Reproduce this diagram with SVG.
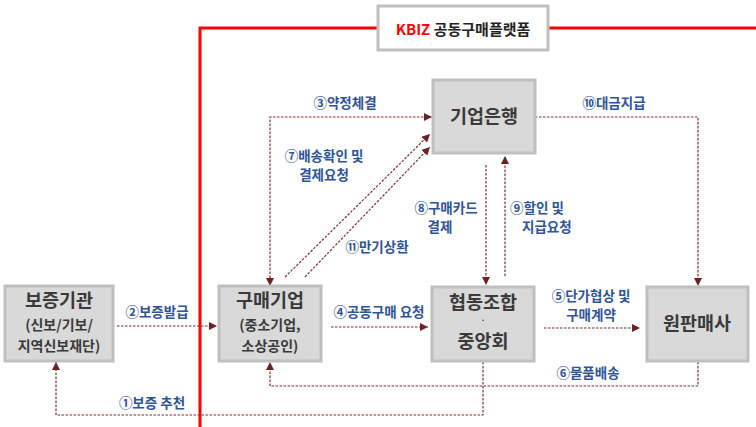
<svg xmlns="http://www.w3.org/2000/svg" width="756" height="427" viewBox="0 0 756 427">
<style>
.node rect{fill:#d9d9d9;stroke:#bfbfbf;stroke-width:3}
.nt{font-family:"Noto Sans CJK KR","Noto Sans",sans-serif;fill:#3a3a3a;text-anchor:middle;font-weight:bold}
.t1{font-size:18.5px}
.t2{font-size:14px}
.lb{font-family:"Noto Sans CJK KR","Noto Sans",sans-serif;fill:#2f5496;font-size:13.5px;font-weight:bold}
.c{fill:none;stroke:#7b2f2f;stroke-width:1.2;stroke-dasharray:2.5 1.5}
</style>
<defs>
<marker id="ah" viewBox="0 0 10 10" refX="10" refY="5" markerWidth="8" markerHeight="8" markerUnits="userSpaceOnUse" orient="auto-start-reverse">
<path d="M0,0 L10,5 L0,10 z" fill="#6b2222"/>
</marker>
</defs>
<rect width="756" height="427" fill="#ffffff"/>
<g id="platform">
<polyline points="200,427 200,28 756,28" fill="none" stroke="#ff0000" stroke-width="3"/>
<rect x="378" y="6" width="170" height="44" fill="#ffffff" stroke="#bfbfbf" stroke-width="3"/>
<text x="463" y="35" text-anchor="middle" font-family="'Noto Sans CJK KR','Noto Sans',sans-serif" font-size="15" font-weight="bold"><tspan fill="#ff0000">KBIZ</tspan><tspan fill="#222222"> 공동구매플랫폼</tspan></text>
</g>
<g id="connectors">
<polyline class="c" points="270,286 270,117 432,117" marker-start="url(#ah)" marker-end="url(#ah)"/>
<line class="c" x1="285" y1="277" x2="430" y2="134" marker-end="url(#ah)"/>
<line class="c" x1="305" y1="277" x2="430" y2="147" marker-end="url(#ah)"/>
<line class="c" x1="486" y1="165" x2="486" y2="285" marker-end="url(#ah)"/>
<line class="c" x1="505" y1="276" x2="505" y2="156" marker-end="url(#ah)"/>
<polyline class="c" points="535,117 698,117 698,286" marker-end="url(#ah)"/>
<line class="c" x1="117" y1="326" x2="217" y2="326" marker-end="url(#ah)"/>
<line class="c" x1="331" y1="327" x2="428" y2="327" marker-end="url(#ah)"/>
<line class="c" x1="544" y1="328" x2="640" y2="328" marker-end="url(#ah)"/>
<polyline class="c" points="698,362 698,386 270,386 270,362" marker-end="url(#ah)"/>
<polyline class="c" points="483,362 483,415 56,415 56,362" marker-end="url(#ah)"/>
</g>
<g id="labels">
<text class="lb" x="345" y="108" text-anchor="middle">③약정체결</text>
<text class="lb" x="324" y="161" text-anchor="middle">⑦배송확인 및</text>
<text class="lb" x="324" y="180" text-anchor="middle">결제요청</text>
<text class="lb" x="446" y="213" text-anchor="middle">⑧구매카드</text>
<text class="lb" x="440" y="232" text-anchor="middle">결제</text>
<text class="lb" x="510" y="213">⑨할인 및</text>
<text class="lb" x="522" y="232">지급요청</text>
<text class="lb" x="377" y="252" text-anchor="middle">⑪만기상환</text>
<text class="lb" x="614" y="108" text-anchor="middle">⑩대금지급</text>
<text class="lb" x="157" y="317" text-anchor="middle">②보증발급</text>
<text class="lb" x="379" y="317" text-anchor="middle">④공동구매 요청</text>
<text class="lb" x="591" y="301" text-anchor="middle">⑤단가협상 및</text>
<text class="lb" x="591" y="320" text-anchor="middle">구매계약</text>
<text class="lb" x="588" y="378" text-anchor="middle">⑥물품배송</text>
<text class="lb" x="152" y="408" text-anchor="middle">①보증 추천</text>
</g>
<g id="n-guarantee" class="node">
<rect x="5" y="286" width="108" height="75"/>
<text class="nt t1" x="59" y="307">보증기관</text>
<text class="nt t2" x="59" y="330">(신보/기보/</text>
<text class="nt t2" x="59" y="351">지역신보재단)</text>
</g>
<g id="n-buyer" class="node">
<rect x="219" y="286" width="102" height="75"/>
<text class="nt t1" x="270" y="307">구매기업</text>
<text class="nt t2" x="270" y="330">(중소기업,</text>
<text class="nt t2" x="270" y="351">소상공인)</text>
</g>
<g id="n-bank" class="node">
<rect x="433" y="80" width="102" height="73"/>
<text class="nt t1" x="484" y="123">기업은행</text>
</g>
<g id="n-coop" class="node">
<rect x="432" y="287" width="102" height="74"/>
<text class="nt t1" x="483" y="309">협동조합</text>
<text class="nt" font-size="8" x="483" y="323">·</text>
<text class="nt t1" x="483" y="348">중앙회</text>
</g>
<g id="n-seller" class="node">
<rect x="647" y="287" width="101" height="74"/>
<text class="nt t1" x="697" y="330">원판매사</text>
</g>
</svg>
